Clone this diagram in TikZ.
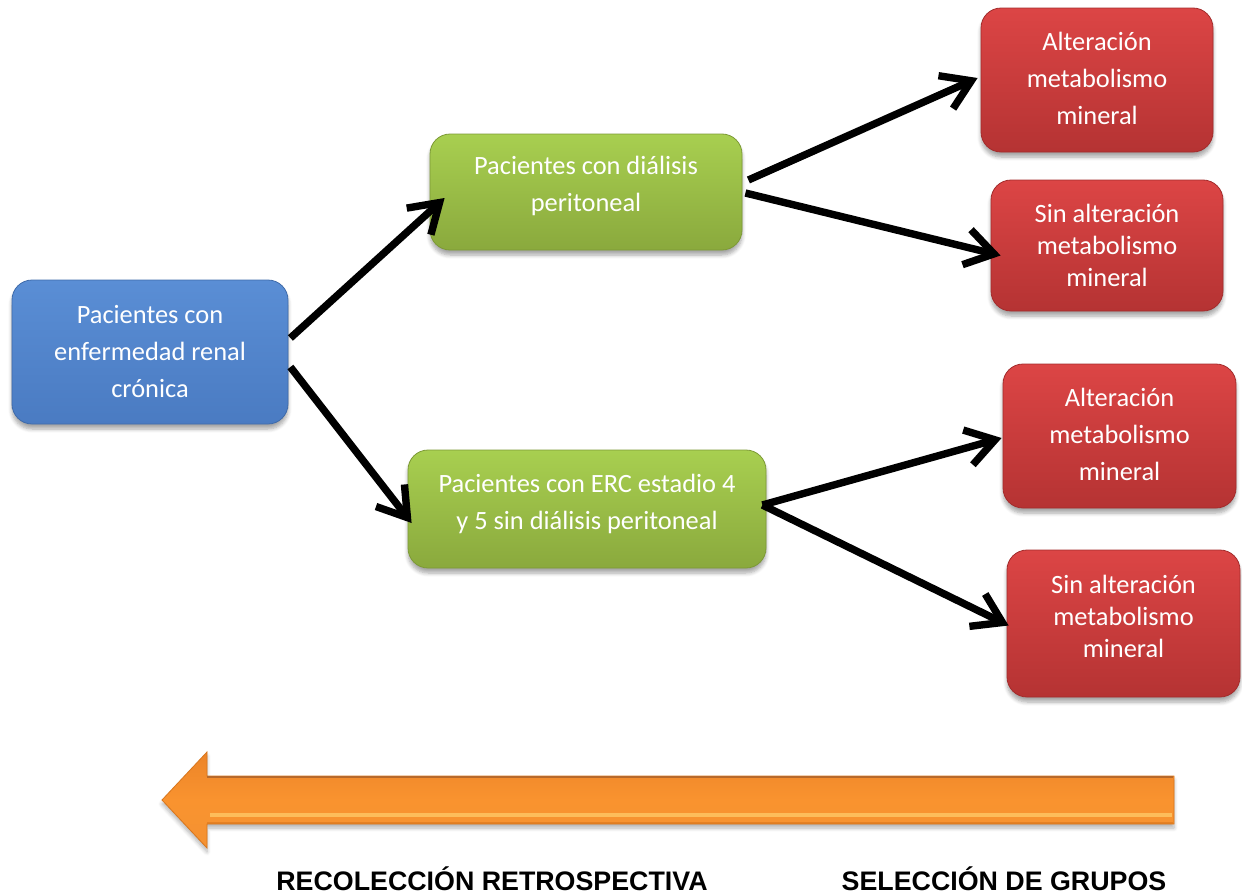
\documentclass[tikz,border=0pt]{standalone}
\usepackage{fontspec}
\setmainfont{Carlito}
\newfontfamily\capfont{Liberation Sans}
\usetikzlibrary{arrows.meta,calc,shadows.blur}
\definecolor{bluetop}{HTML}{5A8ED5}
\definecolor{bluebot}{HTML}{4A7BC2}
\definecolor{blueedge}{HTML}{3F6BAA}
\definecolor{greentop}{HTML}{A8CF50}
\definecolor{greenbot}{HTML}{8AA93D}
\definecolor{greenedge}{HTML}{7D9A36}
\definecolor{redtop}{HTML}{DC4545}
\definecolor{redbot}{HTML}{B53333}
\definecolor{rededge}{HTML}{A32C2C}
\definecolor{orangetop}{HTML}{EC8428}
\definecolor{orangemid}{HTML}{F9932F}
\definecolor{orangebot}{HTML}{F49232}
\definecolor{orangeedge}{HTML}{D9761C}
\definecolor{orangeline}{HTML}{B8692A}
\definecolor{orangehi}{HTML}{FFC866}
\tikzset{
  boxbase/.style={rounded corners=10pt, text=white, align=center, inner sep=0pt,
    font=\fontsize{13.2}{18.5}\selectfont,
    blur shadow={shadow xshift=0pt, shadow yshift=-2.5pt, shadow blur steps=6, shadow opacity=35}},
  bluebox/.style={boxbase, top color=bluetop, bottom color=bluebot, draw=blueedge, line width=0.4pt},
  greenbox/.style={boxbase, top color=greentop, bottom color=greenbot, draw=greenedge, line width=0.4pt},
  redbox/.style={boxbase, top color=redtop, bottom color=redbot, draw=rededge, line width=0.4pt},
  conn/.style={line width=3.7pt, black, -{Straight Barb[length=14pt,width=18pt]}},
  caption/.style={font=\capfont\bfseries\fontsize{13.4}{16}\selectfont, anchor=base, inner sep=0pt}
}
\begin{document}
\begin{tikzpicture}[x=0.5pt,y=-0.5pt]
\useasboundingbox (0,0) rectangle (1242,894);
% boxes
\node[bluebox, minimum width=138pt, minimum height=72pt] (b) at (150,352) {Pacientes con\\enfermedad renal\\crónica};
\node[greenbox, minimum width=156pt, minimum height=58pt, text depth=8pt] (g1) at (586,192) {Pacientes con diálisis\\peritoneal};
\node[greenbox, minimum width=179pt, minimum height=59pt, text depth=7.5pt] (g2) at (587,509) {Pacientes con ERC estadio 4\\y 5 sin diálisis peritoneal};
\node[redbox, minimum width=116pt, minimum height=72pt, text depth=2pt] (r1) at (1097,80) {Alteración\\metabolismo\\mineral};
\node[redbox, minimum width=116pt, minimum height=65.5pt, font=\fontsize{13.2}{16}\selectfont] (r2) at (1107,245.5) {Sin alteración\\metabolismo\\mineral};
\node[redbox, minimum width=116.5pt, minimum height=72pt, text depth=2pt] (r3) at (1119.5,436) {Alteración\\metabolismo\\mineral};
\node[redbox, minimum width=116.5pt, minimum height=73.5pt, text depth=7.5pt, font=\fontsize{13.2}{16}\selectfont] (r4) at (1123.5,623.5) {Sin alteración\\metabolismo\\mineral};
% connectors
\draw[conn] ($(b.east)+(2,-14)$) -- ($(g1.west)+(15,6)$);
\draw[conn] ($(b.east)+(2,15)$) -- ($(g2.west)+(4,14)$);
\draw[conn] ($(g1.east)+(6,-12)$) -- ($(r1.west)+(-3,-2)$);
\draw[conn] ($(g1.east)+(3,1)$) -- ($(r2.west)+(10,10)$);
\draw[conn] ($(g2.east)+(-4,-4)$) -- ($(r3.west)+(-1,2)$);
\draw[conn] ($(g2.east)+(-4,-4)$) -- ($(r4.west)+(2,2)$);
% orange timeline arrow
\path[top color=orangetop, bottom color=orangebot, middle color=orangemid, draw=orangeedge, line width=0.4pt,
  blur shadow={shadow xshift=0pt, shadow yshift=-2pt, shadow blur steps=6, shadow opacity=30}]
  (162,800) -- (207,752) -- (207,776) -- (1174,776) -- (1174,824) -- (207,824) -- (207,848) -- cycle;
\draw[orangeline, line width=1pt] (207,777) -- (1173,777);
\draw[orangehi, line width=2pt, opacity=0.8] (210,815) -- (1172,815);
\draw[orangeedge, line width=1pt, opacity=0.6] (207,822.5) -- (1173,822.5);
% captions
\node[caption] (c1) at (492,890) {RECOLECCIÓN RETROSPECTIVA};
\node[caption] (c2) at (1004,890) {SELECCIÓN DE GRUPOS};
\end{tikzpicture}
\end{document}
